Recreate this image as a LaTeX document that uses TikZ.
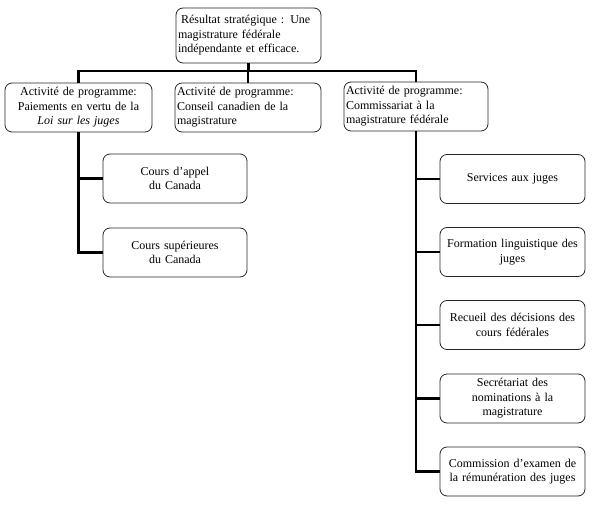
\documentclass[tikz,border=0pt]{standalone}
\usepackage{fontspec}
\setmainfont{Liberation Serif}
\begin{document}
\begin{tikzpicture}[x=1pt,y=-1pt,
  box/.style={draw=black!85, line width=0.8pt, rounded corners=7pt, inner xsep=2pt, inner ysep=1pt,
    font=\fontsize{12}{14.6}\selectfont, minimum height=49pt},
  conn/.style={draw=black, line width=2.8pt}]
\useasboundingbox (0,0) rectangle (595,505);
\node[box, minimum width=145pt, minimum height=55pt, text width=141pt, align=left] (top) at (248.5,35.5)
  {\hspace*{3pt}Résultat stratégique : Une\\magistrature fédérale\\indépendante et efficace.};
\node[box, minimum width=147pt, text width=143pt, align=center] (b1) at (78.5,107.5)
  {Activité de programme:\\Paiements en vertu de la\\\textit{Loi sur les juges}};
\node[box, minimum width=146pt, text width=142pt, align=left] (b2) at (248,107.5)
  {Activité de programme:\\Conseil canadien de la\\magistrature};
\node[box, minimum width=144pt, text width=140pt, align=left] (b3) at (416,106.5)
  {Activité de programme:\\Commissariat à la\\magistrature fédérale};
\node[box, minimum width=144pt, text width=140pt, align=center] (c1) at (175,178.5)
  {Cours d’appel\\du Canada};
\node[box, minimum width=144pt, text width=140pt, align=center] (c2) at (175,252.5)
  {Cours supérieures\\du Canada};
\node[box, minimum width=145pt, text width=141pt, align=center] (d1) at (512.5,179)
  {Services aux juges};
\node[box, minimum width=145pt, text width=141pt, align=center] (d2) at (512.5,252)
  {Formation linguistique des\\juges};
\node[box, minimum width=145pt, text width=141pt, align=center] (d3) at (512.5,325)
  {Recueil des décisions des\\cours fédérales};
\node[box, minimum width=145pt, text width=141pt, align=center] (d4) at (512.5,398.5)
  {Secrétariat des\\nominations à la\\magistrature};
\node[box, minimum width=145pt, text width=141pt, align=center] (d5) at (512.5,471.5)
  {Commission d’examen de\\la rémunération des juges};
\coordinate (bar) at (248.5,71);
\draw[conn] (top.south) -- (bar);
\draw[conn] (b1.north) -- (b1.north |- bar) -- (b3.north |- bar) -- (b3.north);
\draw[conn] (b2.north) -- (b2.north |- bar);
\draw[conn] (b1.south) |- (c2.west);
\draw[conn] (b1.south |- c1.west) -- (c1.west);
\draw[conn] (b3.south) |- (d5.west);
\foreach \n in {d1,d2,d3,d4} \draw[conn] (b3.south |- \n.west) -- (\n.west);
\end{tikzpicture}
\end{document}
